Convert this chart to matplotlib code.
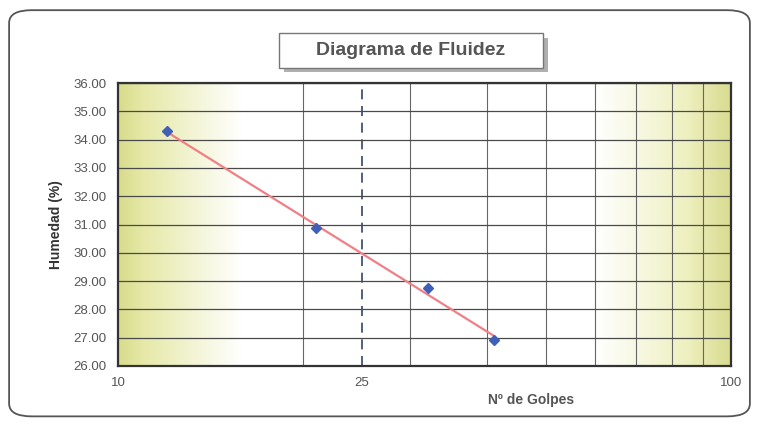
import matplotlib
matplotlib.use('Agg')
import matplotlib.pyplot as plt
import numpy as np
from matplotlib.patches import FancyBboxPatch, Rectangle
from matplotlib.colors import LinearSegmentedColormap

plt.rcParams['font.family'] = ['Liberation Sans', 'DejaVu Sans']

# data
golpes = [12, 21, 32, 41]
humedad = [34.29, 30.89, 28.76, 26.93]
x_ticks = [10, 25, 100]
x_grid = [20, 30, 40, 50, 60, 70, 80, 90]
y_ticks = [26, 27, 28, 29, 30, 31, 32, 33, 34, 35, 36]

fig = plt.figure(figsize=(7.59, 4.24), dpi=100)
fig.patch.set_facecolor('white')

# rounded outer frame
frame = FancyBboxPatch((0.012, 0.018), 0.976, 0.958, boxstyle='round,pad=0,rounding_size=0.03',
                       transform=fig.transFigure, facecolor='none', edgecolor='#555555', lw=1.3)
fig.patches.append(frame)

ax = fig.add_axes([0.1555, 0.137, 0.8075, 0.667])
ax.set_xscale('log')
ax.set_xlim(10, 100)
ax.set_ylim(26, 36)

# yellow-green shading at both sides of plot area
cmap = LinearSegmentedColormap.from_list('bg', [
    (0.0, '#d8dc8c'), (0.04, '#e6e9a8'), (0.2, '#ffffff'),
    (0.78, '#ffffff'), (0.93, '#eef0c0'), (1.0, '#d9dc90')])
grad = np.linspace(0, 1, 256).reshape(1, -1)
ax.imshow(grad, extent=[0, 1, 0, 1], transform=ax.transAxes, cmap=cmap,
          aspect='auto', zorder=0)

for v in x_grid:
    ax.axvline(v, color='#666666', lw=0.8, zorder=1)
ax.axvline(25, color='#334466', lw=1.2, ls=(0, (6, 4)), zorder=1)
for v in y_ticks:
    ax.axhline(v, color='#4a4a4a', lw=0.9, zorder=1)

# log trendline
c = np.polyfit(np.log(golpes), humedad, 1)
xt = np.linspace(min(golpes), max(golpes), 50)
ax.plot(xt, c[0] * np.log(xt) + c[1], color='#f07f86', lw=1.6, zorder=2)
ax.plot(golpes, humedad, 'D', color='#3f5fb8', ms=5, zorder=3)

ax.set_xticks(x_ticks)
ax.set_xticklabels([str(t) for t in x_ticks])
ax.xaxis.set_minor_locator(matplotlib.ticker.NullLocator())
ax.set_yticks(y_ticks)
ax.set_yticklabels(['%.2f' % t for t in y_ticks])
ax.tick_params(axis='both', length=0, labelsize=9.5, colors='#555555', pad=8)
for s in ax.spines.values():
    s.set_color('#333333')
    s.set_linewidth(1.6)

ax.set_ylabel('Humedad (%)', fontsize=10, fontweight='bold', color='#333333', labelpad=8)
fig.text(0.70, 0.048, 'Nº de Golpes', fontsize=10, fontweight='bold', color='#555555', ha='center')

# title box with shadow
fig.patches.append(Rectangle((0.374, 0.830), 0.348, 0.08, transform=fig.transFigure,
                             facecolor='#b0b0b0', edgecolor='none'))
fig.patches.append(Rectangle((0.367, 0.840), 0.348, 0.082, transform=fig.transFigure,
                             facecolor='white', edgecolor='#777777', lw=1))
fig.text(0.541, 0.880, 'Diagrama de Fluidez', fontsize=14, fontweight='bold',
         color='#555555', ha='center', va='center')

fig.savefig('out.png', dpi=100)
